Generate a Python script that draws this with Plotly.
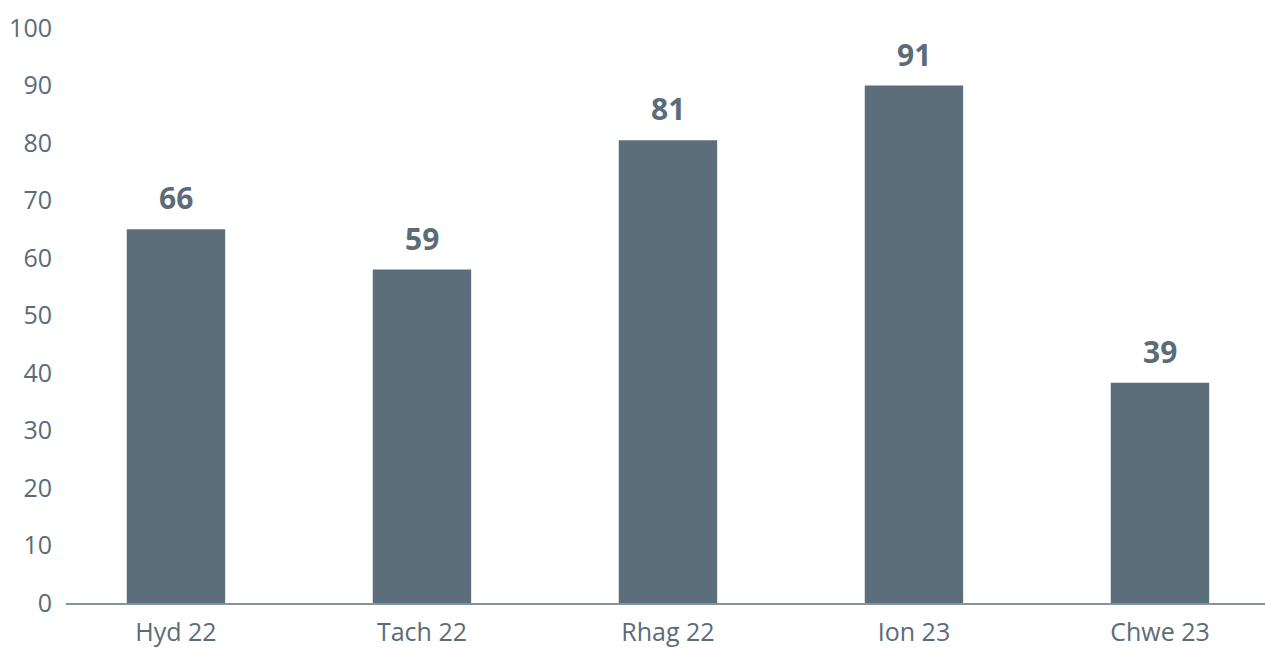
import plotly.graph_objects as go

categories = ["Hyd 22", "Tach 22", "Rhag 22", "Ion 23", "Chwe 23"]
values = [65.0, 58.0, 80.5, 90.0, 38.3]
labels = ["66", "59", "81", "91", "39"]
y_ticks = [0, 10, 20, 30, 40, 50, 60, 70, 80, 90, 100]

BAR = "#5b6e7a"
TXT = "#5b6c78"
FONT = "Open Sans"

fig = go.Figure()
fig.add_trace(go.Bar(x=categories, y=values, marker=dict(color=BAR, line=dict(width=0)),
                     hoverinfo="skip"))

for c, v, l in zip(categories, values, labels):
    fig.add_annotation(x=c, y=v, text=f"<b>{l}</b>", showarrow=False, yanchor="bottom",
                       yshift=9, font=dict(family=FONT, size=30, color=TXT))

fig.update_layout(
    width=1265, height=648,
    margin=dict(l=66, r=0, t=28, b=45),
    paper_bgcolor="white", plot_bgcolor="white",
    bargap=0.6, showlegend=False,
    font=dict(family=FONT, color=TXT),
)
fig.update_xaxes(range=[-0.447, 4.427], showline=True, linecolor="#8393a0", linewidth=1.5,
                 showgrid=False, ticks="", tickfont=dict(family=FONT, size=25, color=TXT),
                 ticklabelstandoff=6)
fig.update_yaxes(range=[0, 100], tickvals=y_ticks, showgrid=False, zeroline=False,
                 showline=False, ticks="", tickfont=dict(family=FONT, size=25, color=TXT),
                 ticklabelstandoff=13)

fig.write_html("out.html", config={"displayModeBar": False},
               post_script="document.body.style.margin='0px';document.body.style.overflow='hidden';")
